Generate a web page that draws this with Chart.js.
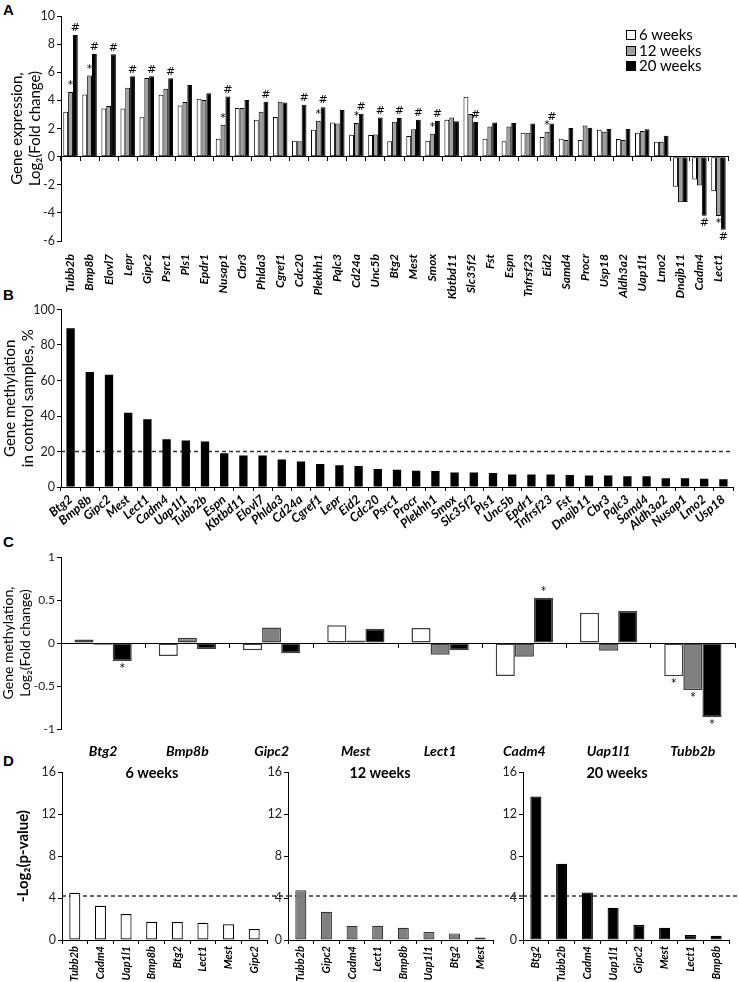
<!DOCTYPE html>
<html>
<head>
<meta charset="utf-8">
<script src="https://cdn.jsdelivr.net/npm/chart.js@4.4.0/dist/chart.umd.min.js"></script>
<style>
  body { margin: 0; background: #fff; }
  #page { position: relative; width: 739px; height: 982px; overflow: hidden; font-family: Lato, sans-serif; }
  canvas { position: absolute; }
  .letter { position: absolute; font: bold 15px "Liberation Sans", Arial, sans-serif; color: #000; }
  .legend { position: absolute; left: 626px; top: 27px; font-size: 15px; line-height: 15.5px; color: #000; }
  .legend .sw { display: inline-block; width: 8px; height: 8px; border: 1px solid #000; margin-right: 3px; vertical-align: 0px; }
  .dtitle { position: absolute; font-weight: bold; font-size: 14.5px; color: #000; transform: translateX(-50%); white-space: nowrap; }
</style>
</head>
<body>
<div id="page">
  <div class="letter" style="left:3px;top:1px">A</div>
  <div class="letter" style="left:3px;top:286px">B</div>
  <div class="letter" style="left:3px;top:533px">C</div>
  <div class="letter" style="left:3px;top:752px">D</div>

  <canvas id="chartA" width="739" height="305" style="left:0;top:0"></canvas>
  <canvas id="chartB" width="739" height="245" style="left:0;top:300px"></canvas>
  <canvas id="chartC" width="739" height="222" style="left:0;top:545px"></canvas>
  <canvas id="chartD1" width="288" height="222" style="left:0;top:760px"></canvas>
  <canvas id="chartD2" width="256" height="222" style="left:267px;top:760px"></canvas>
  <canvas id="chartD3" width="246" height="222" style="left:493px;top:760px"></canvas>

  <div class="legend">
    <div><span class="sw" style="background:#fff"></span>6 weeks</div>
    <div><span class="sw" style="background:#a0a0a0"></span>12 weeks</div>
    <div><span class="sw" style="background:#000"></span>20 weeks</div>
  </div>
  <div class="dtitle" style="left:152px;top:764px">6 weeks</div>
  <div class="dtitle" style="left:380px;top:764px">12 weeks</div>
  <div class="dtitle" style="left:617px;top:764px">20 weeks</div>
</div>

<script>
// ---- Panel A: gene expression, log2 fold change ----
const genesA = ['Tubb2b','Bmp8b','Elovl7','Lepr','Gipc2','Psrc1','Pls1','Epdr1','Nusap1','Cbr3',
  'Phlda3','Cgref1','Cdc20','Plekhh1','Pqlc3','Cd24a','Unc5b','Btg2','Mest','Smox',
  'Kbtbd11','Slc35f2','Fst','Espn','Tnfrsf23','Eid2','Samd4','Procr','Usp18','Aldh3a2',
  'Uap1l1','Lmo2','Dnajb11','Cadm4','Lect1'];
const exprWeek6 = [3.19,4.42,3.43,3.43,2.8,4.4,3.64,4.11,1.28,3.45,
  2.62,2.81,1.13,1.91,2.43,1.56,1.54,1.09,1.47,1.13,
  2.62,4.26,1.28,1.09,1.7,1.39,1.28,1.18,1.91,1.25,
  1.7,1.06,-2.15,-1.63,-2.46];
const exprWeek12 = [4.6,5.77,3.6,4.9,5.6,4.82,3.88,4.02,2.27,3.45,
  3.2,3.9,1.09,2.55,2.36,2.39,1.58,2.48,1.94,1.63,
  2.79,3.03,2.15,2.15,1.7,1.77,1.18,2.22,1.77,1.18,
  1.82,1.06,-3.24,-2.06,-4.23];
const exprWeek20 = [8.65,7.3,7.28,5.72,5.72,5.58,5.1,4.5,4.28,4.02,
  3.9,3.85,3.69,3.52,3.31,3.05,2.79,2.74,2.62,2.53,
  2.51,2.46,2.43,2.39,2.36,2.36,2.03,2.06,1.96,1.96,
  1.94,1.49,-3.22,-4.21,-5.2];
const starA12 = [0,1,8,13,15,19,25,34];
const hashA20 = [0,1,2,3,4,5,8,10,12,13,15,16,17,18,19,21,25,33,34];

// ---- Panel B: methylation in control samples, % ----
const genesB = ['Btg2','Bmp8b','Gipc2','Mest','Lect1','Cadm4','Uap1l1','Tubb2b','Espn','Kbtbd11',
  'Elovl7','Phlda3','Cd24a','Cgref1','Lepr','Eid2','Cdc20','Psrc1','Procr','Plekhh1',
  'Smox','Slc35f2','Pls1','Unc5b','Epdr1','Tnfrsf23','Fst','Dnajb11','Cbr3','Pqlc3',
  'Samd4','Aldh3a2','Nusap1','Lmo2','Usp18'];
const methControl = [89.5,64.8,63.2,41.8,38.1,26.9,26.2,25.6,19,17.7,
  17.7,15.5,14.4,13,12.3,11.9,10.1,9.7,9.2,9,
  8.1,8.1,7.9,7,7,7,6.8,6.5,6.5,6.1,
  6.1,5,4.9,4.7,4.3];
const methCutoff = 20;

// ---- Panel C: methylation, log2 fold change ----
const genesC = ['Btg2','Bmp8b','Gipc2','Mest','Lect1','Cadm4','Uap1l1','Tubb2b'];
const methWeek6 = [0.04,-0.15,-0.085,0.205,0.174,-0.384,0.353,-0.388];
const methWeek12 = [-0.02,0.06,0.18,0.03,-0.136,-0.159,-0.089,-0.547];
const methWeek20 = [-0.21,-0.07,-0.12,0.167,-0.085,0.527,0.372,-0.864];
const starC6 = [7];
const starC12 = [7];
const starC20 = [0,5,7];

// ---- Panel D: -log2(p-value) ----
const genesD6 = ['Tubb2b','Cadm4','Uap1l1','Bmp8b','Btg2','Lect1','Mest','Gipc2'];
const pvalD6 = [4.5,3.26,2.47,1.74,1.71,1.65,1.49,1.05];
const genesD12 = ['Tubb2b','Gipc2','Cadm4','Lect1','Bmp8b','Uap1l1','Btg2','Mest'];
const pvalD12 = [4.75,2.69,1.36,1.36,1.17,0.76,0.63,0.25];
const genesD20 = ['Btg2','Tubb2b','Cadm4','Uap1l1','Gipc2','Mest','Lect1','Bmp8b'];
const pvalD20 = [13.66,7.26,4.53,3.07,1.43,1.17,0.48,0.41];
const pCutoff = 4.2;

Chart.defaults.font.family = 'Lato, sans-serif';
Chart.defaults.color = '#000';
Chart.defaults.animation = false;

const geneFont = size => ({ size: size, style: 'italic', weight: 'bold' });

// dashed reference line, drawn behind the bars
function refLine(value, toEdge) {
  return {
    id: 'refLine',
    beforeDatasetsDraw(chart) {
      const { ctx, chartArea } = chart;
      const y = chart.scales.y.getPixelForValue(value);
      ctx.save();
      ctx.strokeStyle = '#333';
      ctx.lineWidth = 1.5;
      ctx.setLineDash([4, 3]);
      ctx.beginPath();
      ctx.moveTo(chartArea.left, y);
      ctx.lineTo(toEdge ? chart.width : chartArea.right, y);
      ctx.stroke();
      ctx.restore();
    }
  };
}

// * and # over (or under) the bars
function sigMarks(marks, fontSize) {
  return {
    id: 'sigMarks',
    afterDatasetsDraw(chart) {
      const ctx = chart.ctx;
      ctx.save();
      ctx.fillStyle = '#000';
      ctx.textAlign = 'center';
      ctx.font = fontSize + 'px "DejaVu Sans", sans-serif';
      marks.forEach(m => {
        const meta = chart.getDatasetMeta(m.dataset);
        const values = chart.data.datasets[m.dataset].data;
        m.idx.forEach(i => {
          const bar = meta.data[i];
          if (values[i] >= 0) {
            ctx.textBaseline = 'bottom';
            ctx.fillText(m.sym, bar.x, bar.y - 1);
          } else {
            ctx.textBaseline = 'top';
            ctx.fillText(m.sym, bar.x, bar.y + 2);
          }
        });
      });
      ctx.restore();
    }
  };
}

function yAxis(min, max, step, width, title, titleBold, titlePad, tickSize, titleSize) {
  return {
    min: min, max: max,
    ticks: { stepSize: step, font: { size: tickSize || 12.5 }, color: '#222', padding: 2, callback: v => String(v) },
    grid: { drawOnChartArea: false, tickLength: 4, color: '#000' },
    border: { color: '#000', width: 1 },
    title: title ? { display: true, text: title, font: { size: titleSize || 15, weight: titleBold ? 'bold' : 'normal' }, color: '#000', padding: { top: titlePad, bottom: 0 } } : { display: false },
    afterFit(s) { s.width = width; }
  };
}

// axis line at zero with boundary ticks, no labels, no layout space
function zeroAxis() {
  return {
    position: { y: 0 },
    offset: true,
    grid: { drawOnChartArea: false, tickLength: 4, color: '#000', offset: true },
    border: { color: '#000', width: 1 },
    ticks: { display: false },
    afterFit(s) { s.height = 0; }
  };
}

// label-only axis at the bottom
function labelAxis(labels, height, rotation, fontSize, padding) {
  return {
    axis: 'x',
    type: 'category',
    labels: labels,
    position: 'bottom',
    offset: true,
    grid: { display: false },
    border: { display: false },
    ticks: { autoSkip: false, minRotation: rotation, maxRotation: rotation, font: geneFont(fontSize), color: '#000', padding: padding },
    afterFit(s) { s.height = height; }
  };
}

// Panel A
new Chart(document.getElementById('chartA'), {
  type: 'bar',
  data: {
    labels: genesA,
    datasets: [
      { label: '6 weeks', data: exprWeek6, backgroundColor: '#fff', borderColor: '#000' },
      { label: '12 weeks', data: exprWeek12, backgroundColor: '#a0a0a0', borderColor: '#000' },
      { label: '20 weeks', data: exprWeek20, backgroundColor: '#000', borderColor: '#000' }
    ]
  },
  options: {
    responsive: false,
    devicePixelRatio: 1,
    layout: { padding: { top: 16, right: 11, left: 0, bottom: 0 } },
    datasets: { bar: { categoryPercentage: 0.76, barPercentage: 1, borderWidth: 1, borderSkipped: false } },
    plugins: { legend: { display: false }, tooltip: { enabled: false } },
    scales: {
      x: zeroAxis(),
      xl: labelAxis(genesA, 64, 90, 12, 5),
      y: yAxis(-6, 10, 2, 61, ['Gene expression,', 'Log\u2082(Fold change)'], false, 8)
    }
  },
  plugins: [sigMarks([
    { dataset: 1, idx: starA12, sym: '*' },
    { dataset: 2, idx: hashA20, sym: '#' }
  ], 11)]
});

// Panel B
new Chart(document.getElementById('chartB'), {
  type: 'bar',
  data: {
    labels: genesB,
    datasets: [{ label: 'Control', data: methControl, backgroundColor: '#000', borderWidth: 0 }]
  },
  options: {
    responsive: false,
    devicePixelRatio: 1,
    layout: { padding: { top: 6, right: 6, left: 0, bottom: 0 } },
    datasets: { bar: { categoryPercentage: 0.9, barPercentage: 0.48 } },
    plugins: { legend: { display: false }, tooltip: { enabled: false } },
    scales: {
      x: {
        offset: true,
        grid: { drawOnChartArea: false, tickLength: 4, color: '#000', offset: true },
        border: { color: '#000', width: 1 },
        ticks: { autoSkip: false, minRotation: 40, maxRotation: 40, font: geneFont(12.5), color: '#000', padding: 1 },
        afterFit(s) { s.height = 58; }
      },
      y: yAxis(0, 100, 20, 61, ['Gene methylation', 'in control samples, %'], false, 1)
    }
  },
  plugins: [refLine(methCutoff, false)]
});

// Panel C
new Chart(document.getElementById('chartC'), {
  type: 'bar',
  data: {
    labels: genesC,
    datasets: [
      { label: '6 weeks', data: methWeek6, backgroundColor: '#fff' },
      { label: '12 weeks', data: methWeek12, backgroundColor: '#808080' },
      { label: '20 weeks', data: methWeek20, backgroundColor: '#000' }
    ]
  },
  options: {
    responsive: false,
    devicePixelRatio: 1,
    layout: { padding: { top: 12, right: 4, left: 0, bottom: 0 } },
    datasets: { bar: { categoryPercentage: 0.68, barPercentage: 1, borderWidth: 1.5, borderColor: '#404040', borderSkipped: false } },
    plugins: { legend: { display: false }, tooltip: { enabled: false } },
    scales: {
      x: zeroAxis(),
      xl: labelAxis(genesC, 38, 0, 14, 6),
      y: yAxis(-1, 1, 0.5, 61, ['Gene methylation,', 'Log\u2082(Fold change)'], false, 0, 12, 14)
    }
  },
  plugins: [sigMarks([
    { dataset: 0, idx: starC6, sym: '*' },
    { dataset: 1, idx: starC12, sym: '*' },
    { dataset: 2, idx: starC20, sym: '*' }
  ], 10)]
});

// Panel D
function makeD(id, labels, values, fill, border, yWidth, padRight, title) {
  new Chart(document.getElementById(id), {
    type: 'bar',
    data: {
      labels: labels,
      datasets: [{ data: values, backgroundColor: fill, borderColor: border, borderWidth: 1.2, borderSkipped: false }]
    },
    options: {
      responsive: false,
      devicePixelRatio: 1,
      layout: { padding: { top: 12, right: padRight, left: 0, bottom: 0 } },
      datasets: { bar: { categoryPercentage: 0.86, barPercentage: 0.5 } },
      plugins: { legend: { display: false }, tooltip: { enabled: false } },
      scales: {
        x: {
          offset: true,
          grid: { drawOnChartArea: false, tickLength: 4, color: '#000', offset: true },
          border: { color: '#000', width: 1 },
          ticks: { autoSkip: false, minRotation: 90, maxRotation: 90, font: geneFont(11), color: '#000', padding: 2 },
          afterFit(s) { s.height = 42; }
        },
        y: yAxis(0, 16, 4, yWidth, title, true, 14)
      }
    },
    plugins: [refLine(pCutoff, true)]
  });
}
makeD('chartD1', genesD6, pvalD6, '#fff', '#000', 62, 21, '-Log\u2082(p-value)');
makeD('chartD2', genesD12, pvalD12, '#808080', '#333', 21, 30, null);
makeD('chartD3', genesD20, pvalD20, '#000', '#000', 30, 10, null);
</script>
</body>
</html>
